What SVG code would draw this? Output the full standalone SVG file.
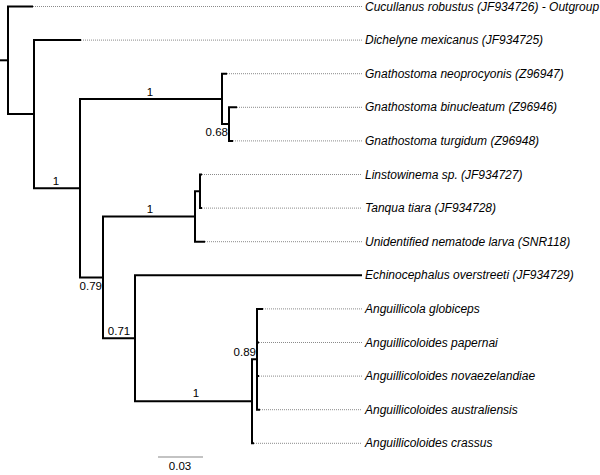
<svg xmlns="http://www.w3.org/2000/svg" width="600" height="475" viewBox="0 0 600 475">
<style>
.br{fill:none;stroke:#000;stroke-width:2;stroke-linejoin:miter;stroke-linecap:butt}
.dot{fill:none;stroke:#8a8a8a;stroke-width:1;stroke-dasharray:1,1}
.tip{font-family:"Liberation Sans",Arial,sans-serif;font-size:12px;font-style:italic;fill:#000}
.sup{font-family:"Liberation Sans",Arial,sans-serif;font-size:11.5px;fill:#000}
</style>
<rect width="600" height="475" fill="#fff"/>
<g id="connectors">
<path class="br" d="M0,60.3 H8"/>
<path class="br" d="M33,6.5 H8 V114.1 H34"/>
<path class="br" d="M81,40.1 H34 V188.2 H80"/>
<path class="br" d="M222,98.9 H80 V277.4 H103"/>
<path class="br" d="M227,73.7 H222 V124.1 H229"/>
<path class="br" d="M237,107.3 H229 V140.9 H233"/>
<path class="br" d="M195,216.5 H103 V338.3 H135"/>
<path class="br" d="M200,191.3 H195 V241.7 H205"/>
<path class="br" d="M202,174.5 H200 V208.1 H202"/>
<path class="br" d="M362,275.3 H135 V401.3 H252"/>
<path class="br" d="M257,359.3 H252 V443.3 H254"/>
<path class="br" d="M263,308.9 H257 V409.7 H260 M257,342.5 H259 M257,376.1 H259"/>
<path class="dot" d="M33,6.5 H362 M81,40.1 H362 M227,73.7 H362 M237,107.3 H362 M233,140.9 H362 M202,174.5 H362 M202,208.1 H362 M205,241.7 H362 M263,308.9 H362 M259,342.5 H362 M259,376.1 H362 M260,409.7 H362 M254,443.3 H362"/>
</g>
<g id="support">
<text class="sup" x="150" y="96" text-anchor="middle">1</text>
<text class="sup" x="56" y="185" text-anchor="middle">1</text>
<text class="sup" x="228" y="136" text-anchor="end">0.68</text>
<text class="sup" x="150" y="213" text-anchor="middle">1</text>
<text class="sup" x="102" y="290" text-anchor="end">0.79</text>
<text class="sup" x="119" y="335" text-anchor="middle">0.71</text>
<text class="sup" x="256" y="356" text-anchor="end">0.89</text>
<text class="sup" x="196" y="397" text-anchor="middle">1</text>
</g>
<g id="t1"><text class="tip" x="365" y="10.5">Cucullanus robustus (JF934726) - Outgroup</text></g>
<g id="t2"><text class="tip" x="365" y="44.1">Dichelyne mexicanus (JF934725)</text></g>
<g id="t3"><text class="tip" x="365" y="77.7">Gnathostoma neoprocyonis (Z96947)</text></g>
<g id="t4"><text class="tip" x="365" y="111.3">Gnathostoma binucleatum (Z96946)</text></g>
<g id="t5"><text class="tip" x="365" y="144.9">Gnathostoma turgidum (Z96948)</text></g>
<g id="t6"><text class="tip" x="365" y="178.5">Linstowinema sp. (JF934727)</text></g>
<g id="t7"><text class="tip" x="365" y="212.1">Tanqua tiara (JF934728)</text></g>
<g id="t8"><text class="tip" x="365" y="245.7">Unidentified nematode larva (SNR118)</text></g>
<g id="t9"><text class="tip" x="365" y="279.3">Echinocephalus overstreeti (JF934729)</text></g>
<g id="t10"><text class="tip" x="365" y="312.9">Anguillicola globiceps</text></g>
<g id="t11"><text class="tip" x="365" y="346.5">Anguillicoloides papernai</text></g>
<g id="t12"><text class="tip" x="365" y="380.1">Anguillicoloides novaezelandiae</text></g>
<g id="t13"><text class="tip" x="365" y="413.7">Anguillicoloides australiensis</text></g>
<g id="t14"><text class="tip" x="365" y="447.3">Anguillicoloides crassus</text></g>
<g id="scale">
<path d="M158,457 H203" stroke="#888" stroke-width="1.2" fill="none"/>
<text class="sup" x="180" y="470" text-anchor="middle">0.03</text>
</g>
</svg>
